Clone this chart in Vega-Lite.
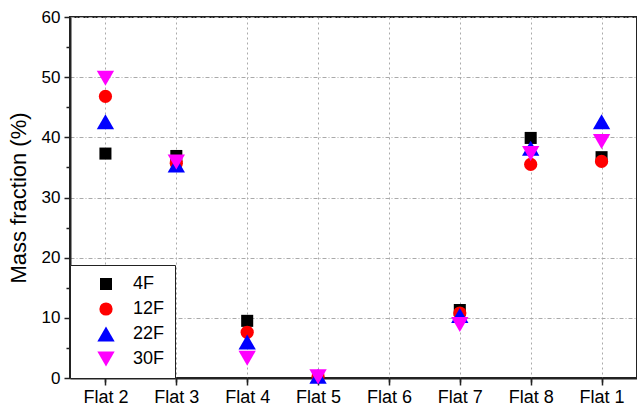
{
  "$schema": "https://vega.github.io/schema/vega-lite/v6.json",
  "width": 567,
  "height": 361,
  "autosize": {"type": "none"},
  "padding": {"left": 70, "top": 17, "right": 0, "bottom": 37},
  "config": {
    "font": "Liberation Sans",
    "view": {"stroke": "#222", "strokeWidth": 2},
    "axis": {"labelColor": "black", "titleColor": "black", "tickColor": "#222", "domainColor": "#222"}
  },
  "data": {
    "values": [
      {"flat": "Flat 2", "series": "4F", "fraction": 37.3},
      {"flat": "Flat 2", "series": "12F", "fraction": 46.8},
      {"flat": "Flat 2", "series": "22F", "fraction": 42.6},
      {"flat": "Flat 2", "series": "30F", "fraction": 49.8},
      {"flat": "Flat 3", "series": "4F", "fraction": 36.9},
      {"flat": "Flat 3", "series": "12F", "fraction": 35.7},
      {"flat": "Flat 3", "series": "22F", "fraction": 35.4},
      {"flat": "Flat 3", "series": "30F", "fraction": 35.9},
      {"flat": "Flat 4", "series": "4F", "fraction": 9.5},
      {"flat": "Flat 4", "series": "12F", "fraction": 7.6},
      {"flat": "Flat 4", "series": "22F", "fraction": 6.0},
      {"flat": "Flat 4", "series": "30F", "fraction": 3.3},
      {"flat": "Flat 5", "series": "4F", "fraction": 0.2},
      {"flat": "Flat 5", "series": "12F", "fraction": 0.2},
      {"flat": "Flat 5", "series": "22F", "fraction": 0.3},
      {"flat": "Flat 5", "series": "30F", "fraction": 0.2},
      {"flat": "Flat 7", "series": "4F", "fraction": 11.3},
      {"flat": "Flat 7", "series": "12F", "fraction": 10.8},
      {"flat": "Flat 7", "series": "22F", "fraction": 10.4},
      {"flat": "Flat 7", "series": "30F", "fraction": 8.9},
      {"flat": "Flat 8", "series": "4F", "fraction": 39.9},
      {"flat": "Flat 8", "series": "12F", "fraction": 35.5},
      {"flat": "Flat 8", "series": "22F", "fraction": 38.2},
      {"flat": "Flat 8", "series": "30F", "fraction": 37.3},
      {"flat": "Flat 1", "series": "4F", "fraction": 36.7},
      {"flat": "Flat 1", "series": "12F", "fraction": 36.0},
      {"flat": "Flat 1", "series": "22F", "fraction": 42.6},
      {"flat": "Flat 1", "series": "30F", "fraction": 39.3}
    ]
  },
  "layer": [
    {
      "mark": {"type": "point", "filled": true, "opacity": 1},
      "encoding": {
        "x": {
          "field": "flat", "type": "nominal",
          "scale": {"domain": ["Flat 2", "Flat 3", "Flat 4", "Flat 5", "Flat 6", "Flat 7", "Flat 8", "Flat 1"], "paddingInner": 0, "paddingOuter": 0},
          "axis": {
            "title": null, "labelAngle": 0, "labelFontSize": 18, "labelPadding": 3,
            "bandPosition": 0.5, "grid": true, "gridColor": "#aaaaaa", "gridDash": [2, 3], "gridWidth": 1,
            "tickSize": 7, "tickWidth": 1.5, "domainWidth": 2
          }
        },
        "y": {
          "field": "fraction", "type": "quantitative",
          "scale": {"domain": [0, 60], "nice": false},
          "axis": {
            "title": "Mass fraction (%)", "titleFontSize": 22, "titleFontWeight": "normal", "titlePadding": 11,
            "values": [0, 10, 20, 30, 40, 50, 60], "labelFontSize": 17, "labelPadding": 4,
            "grid": true, "gridColor": "#aaaaaa", "gridDash": [4, 2, 1, 2], "gridWidth": 1,
            "tickSize": 6, "tickWidth": 1.5, "domainWidth": 2
          }
        },
        "color": {
          "field": "series", "type": "nominal",
          "scale": {"domain": ["4F", "12F", "22F", "30F"], "range": ["black", "#ff0000", "#0000ff", "#ff00ff"]},
          "legend": {
            "title": null, "orient": "bottom-left", "offset": 0, "padding": 10,
            "strokeColor": "#222", "fillColor": "white",
            "labelFontSize": 18, "labelColor": "black", "symbolOffset": 17,
            "labelOffset": 18, "rowPadding": 7, "symbolStrokeWidth": 0,
            "encode": {"legend": {"update": {"strokeWidth": {"value": 1.5}}}}
          }
        },
        "shape": {
          "field": "series", "type": "nominal",
          "scale": {"domain": ["4F", "12F", "22F", "30F"], "range": ["square", "circle", "triangle-up", "triangle-down"]}
        },
        "size": {
          "field": "series", "type": "ordinal",
          "scale": {"type": "ordinal", "domain": ["4F", "12F", "22F", "30F"], "range": [145, 175, 300, 300]}
        }
      }
    },
    {
      "mark": {"type": "point", "opacity": 0},
      "encoding": {
        "x": {
          "field": "flat", "type": "nominal",
          "axis": {"title": null, "orient": "bottom", "labels": false, "domain": false, "grid": false, "bandPosition": 0, "tickSize": 4, "tickWidth": 1.5}
        },
        "y": {
          "field": "fraction", "type": "quantitative",
          "axis": {"title": null, "orient": "left", "labels": false, "domain": false, "grid": false, "values": [5, 15, 25, 35, 45, 55], "tickSize": 4, "tickWidth": 1.5}
        }
      }
    }
  ],
  "resolve": {"axis": {"x": "independent", "y": "independent"}}
}
